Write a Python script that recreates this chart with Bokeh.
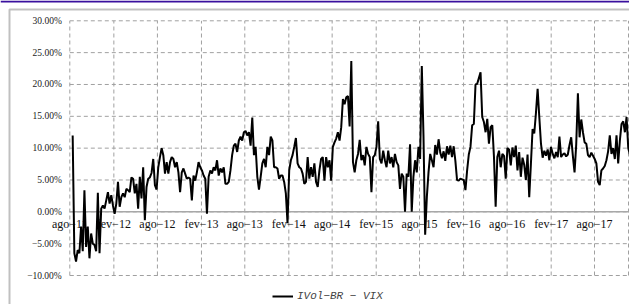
import pandas as pd
from bokeh.plotting import figure
from bokeh.models import (Range1d, ColumnDataSource, Legend, LegendItem, LabelSet, BoxAnnotation)
from bokeh.embed import file_html
from bokeh.resources import INLINE

# ---- data (values in %, weekly) ----
seg_2011_2013 = [12.0, -6.5, -7.8, -6.0, -6.5, -2.3, -6.2, 3.4, -5.5, -2.3, -7.3, -3.4, -5.0, -5.2,
                 -6.2, 3.0, -6.5, 0.5, 1.0, 0.5, 1.8, 3.1, 1.3, 2.6, 1.0, -0.3, 1.3, 4.7, 0.8, 2.3,
                 2.9, 2.3, 3.6, 3.4, 3.1, 5.4, 5.2, 2.9, 4.4, 0.5, 5.5, 2.1, 7.0, -1.3, 3.9, 5.2,
                 5.4, 6.1, 8.3, 4.2, 3.5, 7.0, 8.6, 10.0, 8.9, 6.0, 7.8, 6.0, 7.8, 8.6, 8.3, 7.0,
                 7.8, 6.2, 3.1, 6.2, 6.8, 6.0, 5.2, 5.4, 5.2, 1.8, 5.7, 4.9, 6.2, 7.8, 7.0, 6.5,
                 5.7, 5.2, -0.3, 5.5, 6.5, 6.0, 7.0, 6.5, 8.1, 5.7, 6.8, 6.2, 7.0, 4.4, 4.4, 4.7,
                 6.5, 8.9, 10.4, 10.7, 9.4, 11.2, 11.8, 11.2, 12.5, 12.7, 12.0, 12.5, 10.4]
seg_2013_2015 = [14.8, 8.9, 10.2, 5.5, 3.5, 5.5, 7.6, 8.3, 7.0, 10.2, 8.9, 11.8, 11.2, 7.0, 7.0,
                 6.8, 5.2, 5.7, 5.7, 4.7, 2.9, -1.8, 6.5, 8.1, 8.9, 10.2, 11.6, 7.6, 7.0, 6.8, 6.0,
                 4.4, 4.7, 8.6, 5.2, 7.0, 5.5, 7.6, 4.7, 3.9, 6.5, 8.3, 8.6, 4.9, 8.6, 7.0, 8.1,
                 4.9, 10.2, 10.9, 11.5, 12.5, 11.2, 13.3, 17.7, 16.9, 18.0, 18.2, 13.4, 23.7, 7.8,
                 6.2, 8.1, 9.1, 11.3, 8.1, 8.9, 7.3, 10.2, 9.1, 8.6, 3.1, 8.6, 8.9, 10.2, 14.2,
                 8.3, 7.6, 9.6, 8.1, 7.0, 9.6, 7.6, 8.6, 7.0, 9.1, 7.8, 7.3, 3.6, 6.0, 5.5, 0.0,
                 6.0, 5.5, 10.6, 0.0, 5.5, 8.1, 6.2, 10.2, 8.3, 22.9, 12.0, -3.6, 2.3, 6.2, 9.1,
                 8.1, 7.0]
seg_2015_2017 = [10.5, 9.0, 11.4, 9.3, 8.4, 9.5, 8.0, 10.3, 9.0, 10.4, 8.6, 10.3, 8.0, 5.0, 4.9,
                 5.2, 5.1, 5.0, 3.4, 6.5, 9.0, 10.2, 13.6, 13.8, 20.0, 20.1, 21.0, 21.9, 14.9,
                 14.1, 12.5, 14.6, 10.7, 13.3, 13.6, 8.6, 0.8, 8.6, 9.6, 7.0, 9.1, 8.8, 5.2, 10.0,
                 9.8, 7.3, 10.1, 8.6, 10.4, 6.5, 9.4, 5.5, 8.5, 7.4, 5.0, 9.0, 2.3, 7.5, 13.0,
                 12.3, 15.5, 19.3, 14.9, 10.7, 8.5, 9.6, 8.8, 9.8, 8.1, 10.2, 9.1, 8.4, 9.4, 8.6,
                 11.8, 8.6, 9.0, 9.2, 8.7, 9.0, 10.5, 11.7, 8.8, 6.2, 10.6, 18.6, 11.7, 14.5, 12.5,
                 10.9, 10.7, 8.9, 8.6, 9.3, 8.8, 8.3, 7.6, 4.7, 4.2, 6.5, 6.8, 7.2, 8.1, 9.5, 12.0,
                 9.1, 10.0, 8.3, 12.0, 7.6, 11.2, 13.8, 14.2, 12.5, 14.9, 10.0, 9.0]
spread_values = seg_2011_2013 + seg_2013_2015 + seg_2015_2017
first_date = "2011-08-13"
last_date = "2017-12-27"
range_start = "2011-08-01"
range_end = "2017-12-21"
x_tick_dates = ["2011-08-01", "2012-02-01", "2012-08-01", "2013-02-01", "2013-08-01",
                "2014-02-01", "2014-08-01", "2015-02-01", "2015-08-01", "2016-02-01",
                "2016-08-01", "2017-02-01", "2017-08-01"]
x_tick_labels = ["ago−11", "fev−12", "ago−12", "fev−13", "ago−13", "fev−14", "ago−14",
                 "fev−15", "ago−15", "fev−16", "ago−16", "fev−17", "ago−17"]
y_ticks = [-10, -5, 0, 5, 10, 15, 20, 25, 30]
y_tick_labels = ["−10.00%", "−5.00%", "0.00%", "5.00%", "10.00%", "15.00%", "20.00%",
                 "25.00%", "30.00%"]
series_name = "IVol−BR − VIX"

# ---- layout geometry (pixels of the 629x304 page) ----
W, H = 629, 304
PLOT_L, PLOT_R, PLOT_T, PLOT_B = 69.3, 628.0, 20.3, 275.0
GRID_COLOR = "#a0a0a0"
GRID_DASH = "4 3"
BOX_COLOR = "#2e2e2e"

dates = pd.date_range(first_date, last_date, periods=len(spread_values))
tick_ts = pd.to_datetime(x_tick_dates)
t0, t1 = pd.Timestamp(range_start), pd.Timestamp(range_end)
per_px_x = (t1 - t0) / (PLOT_R - PLOT_L)
x_lo, x_hi = t0 - per_px_x * PLOT_L, t1 + per_px_x * (W - PLOT_R)
y_min, y_max = y_ticks[0], y_ticks[-1]
per_px_y = (y_max - y_min) / (PLOT_B - PLOT_T)
y_lo, y_hi = y_min - per_px_y * (H - PLOT_B), y_max + per_px_y * PLOT_T

p = figure(width=W, height=H, x_axis_location=None, y_axis_location=None,
           output_backend="svg", toolbar_location=None,
           x_range=Range1d(x_lo, x_hi), y_range=Range1d(y_lo, y_hi),
           min_border_left=0, min_border_right=0, min_border_top=0, min_border_bottom=0)
p.outline_line_color = None
p.xgrid.visible = False
p.ygrid.visible = False
p.border_fill_color = "white"
p.background_fill_color = "white"

# grid (dashed, plot-area only)
vx = list(tick_ts) + [t1]
p.segment(x0=vx, y0=[y_min] * len(vx), x1=vx, y1=[y_max] * len(vx),
          line_color=GRID_COLOR, line_dash=GRID_DASH, line_width=1, level="underlay")
p.segment(x0=[t0] * len(y_ticks), y0=y_ticks, x1=[t1] * len(y_ticks), y1=y_ticks,
          line_color=GRID_COLOR, line_dash=GRID_DASH, line_width=1, level="underlay")
# zero line
p.segment(x0=[t0], y0=[0], x1=[t1], y1=[0], line_color="#a8a8a8", line_width=1.5,
          level="underlay")

# y tick labels
ylab = ColumnDataSource(dict(x=[t0] * len(y_ticks), y=y_ticks, text=y_tick_labels))
p.add_layout(LabelSet(x="x", y="y", text="text", source=ylab, x_offset=-8,
                      text_font="DejaVu Sans", text_font_size="9.5px", text_align="right",
                      text_baseline="middle", text_color="#1a1a1a", level="underlay"))
# x tick labels on the zero line
xlab = ColumnDataSource(dict(x=tick_ts, y=[0] * len(x_tick_labels), text=x_tick_labels))
p.add_layout(LabelSet(x="x", y="y", text="text", source=xlab, y_offset=-12.5,
                      text_font="Liberation Mono", text_font_size="12px",
                      text_align="center", text_baseline="middle",
                      text_color="#111111", level="underlay"))

line_r = p.line(dates, spread_values, line_color="black", line_width=2)

# outer chart box and top band (screen decorations)
p.add_layout(BoxAnnotation(left=0, right=W, top=0, bottom=2, left_units="canvas",
                           right_units="canvas", top_units="canvas", bottom_units="canvas",
                           fill_color="#3a109e", fill_alpha=1, line_color=None))
p.add_layout(BoxAnnotation(left=9, right=W + 40, top=9, bottom=H + 40, left_units="canvas",
                           right_units="canvas", top_units="canvas", bottom_units="canvas",
                           fill_alpha=0, line_color=BOX_COLOR, line_width=2))

legend = Legend(items=[LegendItem(label=series_name, renderers=[line_r])],
                location=(272, 2), orientation="horizontal", padding=0, margin=0,
                spacing=0, glyph_width=21, glyph_height=12, label_height=12,
                label_standoff=4, label_text_font="Liberation Mono",
                label_text_font_style="italic", label_text_font_size="11px",
                border_line_color=None, background_fill_alpha=0)
p.add_layout(legend, "center")

open("out.html", "w").write(file_html(p, INLINE))
